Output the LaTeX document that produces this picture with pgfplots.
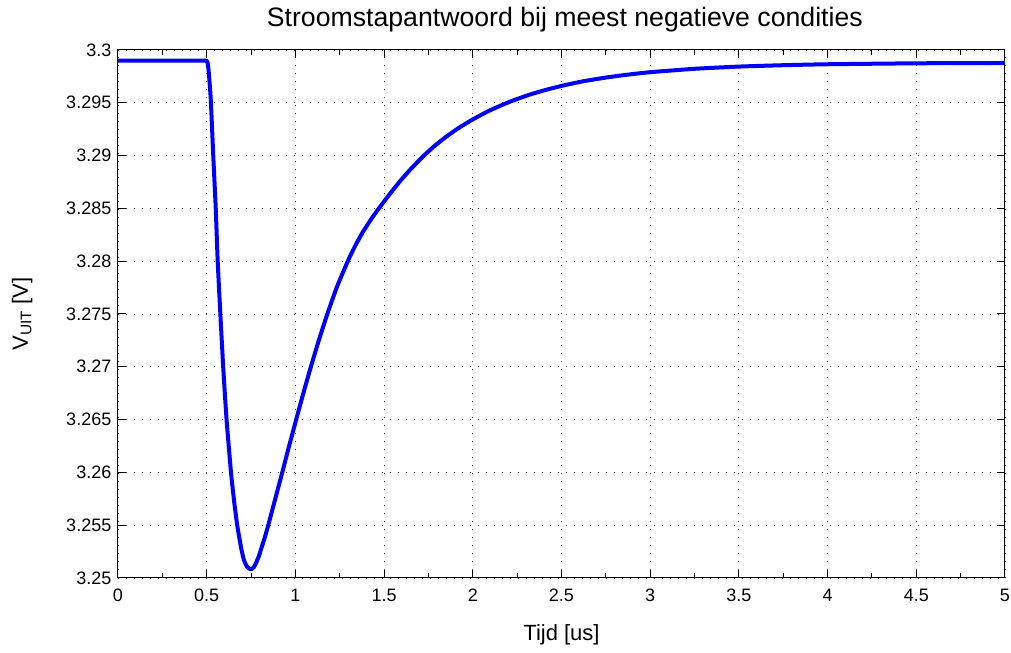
\documentclass[border=0pt]{standalone}
\usepackage{fontspec}
\setmainfont{Liberation Sans}
\usepackage{pgfplots}
\pgfplotsset{compat=1.18}
\begin{document}
\begin{tikzpicture}
\begin{axis}[
  scale only axis,
  width=665.25pt, height=396pt,
  xmin=0, xmax=5, ymin=3.25, ymax=3.3,
  xtick={0,0.5,1,1.5,2,2.5,3,3.5,4,4.5,5},
  xticklabels={0,0.5,1,1.5,2,2.5,3,3.5,4,4.5,5},
  minor x tick num=1,
  ytick={3.25,3.255,3.26,3.265,3.27,3.275,3.28,3.285,3.29,3.295,3.3},
  yticklabels={3.25,3.255,3.26,3.265,3.27,3.275,3.28,3.285,3.29,3.295,3.3},
  tick align=inside,
  major tick length=6pt, minor tick length=3.5pt,
  every tick/.style={black, line width=0.75pt},
  axis line style={line width=0.75pt},
  grid=major,
  major grid style={black!75, line width=0.6pt, dash pattern=on 0.75pt off 5.25pt},
  tick label style={font=\fontsize{13.5}{16}\selectfont},
  xticklabel style={anchor=north, yshift=-5pt},
  yticklabel style={anchor=east, xshift=-1.5pt},
  title={Stroomstapantwoord bij meest negatieve condities},
  title style={font=\fontsize{20}{24}\selectfont, at={(axis description cs:0.5,1)}, anchor=center, yshift=16.5pt, xshift=2.5pt},
  xlabel={Tijd [us]},
  xlabel style={font=\fontsize{16.5}{20}\selectfont, at={(axis description cs:0.5,-0.108)}, anchor=center},
  ylabel={V\textsubscript{UIT} [V]},
  ylabel style={font=\fontsize{16.5}{20}\selectfont, at={(axis description cs:-0.108,0.5)}, anchor=center},
]
\addplot[color={rgb,255:red,0;green,0;blue,255}, line width=3pt, line join=round, smooth, tension=0.3] coordinates {
(0,3.2990) (0.25,3.2990) (0.4,3.2990) (0.47,3.2990) (0.49,3.2990) (0.5,3.29898) (0.505,3.2988) (0.51,3.2982) (0.515,3.2972)
(0.52,3.2961) (0.524,3.2950) (0.537,3.2900) (0.551,3.2850) (0.562,3.2800)
(0.577,3.2750) (0.593,3.2700) (0.612,3.2650) (0.637,3.2600) (0.655,3.2572) (0.672,3.2550)
(0.685,3.2537) (0.697,3.2526) (0.71,3.2517) (0.72,3.2513) (0.73,3.2510) (0.74,3.2509) (0.748,3.2508)
(0.757,3.2509) (0.765,3.2510) (0.775,3.2513) (0.785,3.2517) (0.795,3.2521) (0.804,3.2526) (0.825,3.2537)
(0.847,3.2550) (0.885,3.2574) (0.926,3.2600) (0.96,3.2622) (0.998,3.2646) (1.04,3.2672) (1.082,3.2697)
(1.13,3.2724) (1.18,3.2750) (1.235,3.2776) (1.298,3.2801) (1.34,3.28155) (1.38,3.28275) (1.43,3.28405) (1.477,3.28515)
(1.53,3.28632) (1.59,3.28758) (1.65,3.28872) (1.717,3.28988) (1.78,3.29085) (1.85,3.29179) (1.92,3.29261) (2.0,3.29343)
(2.1,3.29431) (2.21,3.29511) (2.32,3.29577) (2.4,3.29617) (2.5,3.2966) (2.62,3.29703) (2.75,3.29739) (2.87,3.29766)
(3.0,3.2979) (3.25,3.29822) (3.5,3.29843) (3.75,3.29856) (4.0,3.29865) (4.5,3.29874) (5.0,3.29877)
};
\end{axis}
\pgfresetboundingbox
\path (-88.5pt,-56.25pt) rectangle (669.75pt,433.5pt);
\end{tikzpicture}
\end{document}
